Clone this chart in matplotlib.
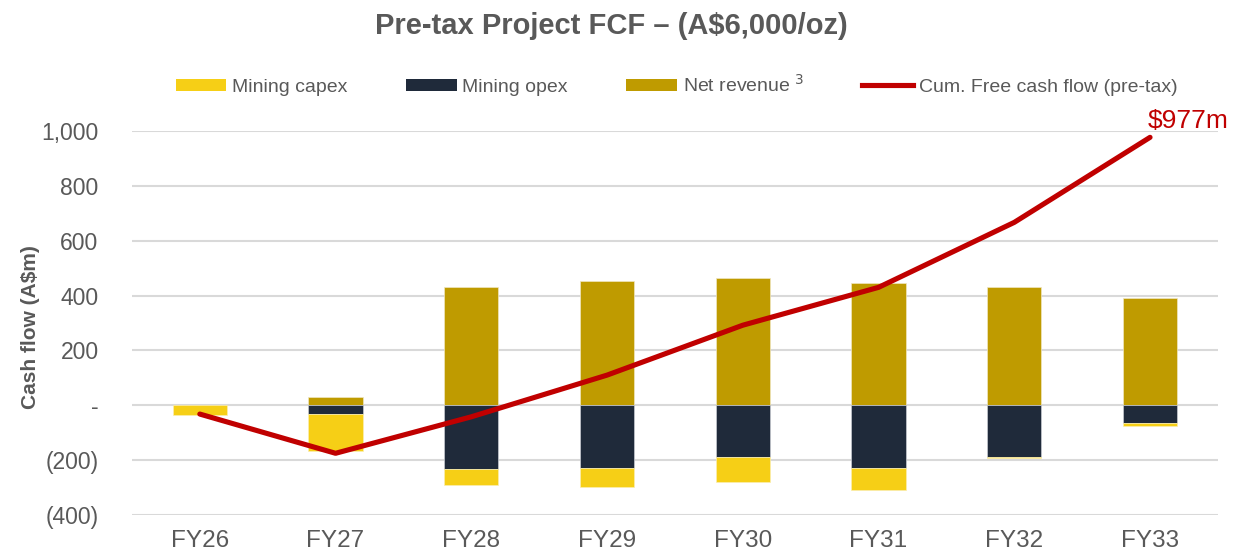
import matplotlib
matplotlib.use("Agg")
import matplotlib.pyplot as plt
from matplotlib.patches import Patch
from matplotlib.lines import Line2D
from matplotlib.ticker import FuncFormatter
import numpy as np

plt.rcParams["font.family"] = ["Liberation Sans", "DejaVu Sans"]

# data (A$m)
years = ["FY26", "FY27", "FY28", "FY29", "FY30", "FY31", "FY32", "FY33"]
net_revenue = [0, 29, 432, 452, 463, 447, 432, 390]
mining_opex = [0, -32, -233, -230, -190, -230, -190, -66]
mining_capex = [-35, -136, -58, -69, -91, -78, -2, -10]
cum_fcf = [-32, -175, -42, 110, 292, 430, 667, 977]

C_CAPEX = "#f6cf16"
C_OPEX = "#1f2a3a"
C_REV = "#bf9b00"
C_LINE = "#c00000"
C_TEXT = "#595959"

fig = plt.figure(figsize=(12.53, 5.54), dpi=100)
ax = fig.add_axes([0.1053, 0.0704, 0.8667, 0.6931])

x = np.arange(len(years))
w = 0.4
ax.bar(x, net_revenue, w, color=C_REV, edgecolor="#f0e6c0", lw=0.5, zorder=2)
ax.bar(x, mining_opex, w, color=C_OPEX, edgecolor="#c8ccd2", lw=0.5, zorder=2)
ax.bar(x, mining_capex, w, bottom=mining_opex, color=C_CAPEX,
       edgecolor="#fbeeb0", lw=0.5, zorder=2)
ax.plot(x, cum_fcf, color=C_LINE, lw=3.7, solid_capstyle="round",
        solid_joinstyle="round", zorder=3)
ax.text(x[-1] - 0.02, cum_fcf[-1] + 14, f"${cum_fcf[-1]:.0f}m", color=C_LINE,
        fontsize=19, ha="left", va="bottom")

ax.set_xlim(-0.5, len(years) - 0.5)
ax.set_ylim(-400, 1000)
ax.set_yticks(range(-400, 1001, 200))


def fmt(v, _pos):
    if abs(v) < 1e-9:
        return "-"
    if v < 0:
        return f"({abs(v):,.0f})"
    return f"{v:,.0f}"


ax.yaxis.set_major_formatter(FuncFormatter(fmt))
ax.set_xticks(x)
ax.set_xticklabels(years)
ax.tick_params(axis="both", length=0, labelcolor=C_TEXT)
ax.tick_params(axis="y", pad=24, labelsize=16.5)
ax.tick_params(axis="x", pad=11, labelsize=17.5)
ax.grid(axis="y", color="#d9d9d9", lw=1.5, zorder=0)
ax.set_axisbelow(True)
for s in ax.spines.values():
    s.set_visible(False)

ax.set_ylabel("Cash flow (A$m)", fontsize=15, fontweight="bold", color=C_TEXT)
ax.yaxis.set_label_coords(-0.085, 0.49)

fig.suptitle("Pre-tax Project FCF \u2013 (A$6,000/oz)", fontsize=21,
             fontweight="bold", color=C_TEXT, x=0.488, y=0.978)

handles = [
    Patch(facecolor=C_CAPEX, label="Mining capex"),
    Patch(facecolor=C_OPEX, label="Mining opex"),
    Patch(facecolor=C_REV, label="Net revenue $^{3}$"),
    Line2D([], [], color=C_LINE, lw=3.7, label="Cum. Free cash flow (pre-tax)"),
]
leg = fig.legend(handles=handles, ncol=4, loc="center", bbox_to_anchor=(0.54, 0.847),
                 frameon=False, fontsize=14, handlelength=2.6, handleheight=0.55,
                 handletextpad=0.3, columnspacing=3.0)
for t in leg.get_texts():
    t.set_color(C_TEXT)

fig.savefig("out.png", dpi=100)
